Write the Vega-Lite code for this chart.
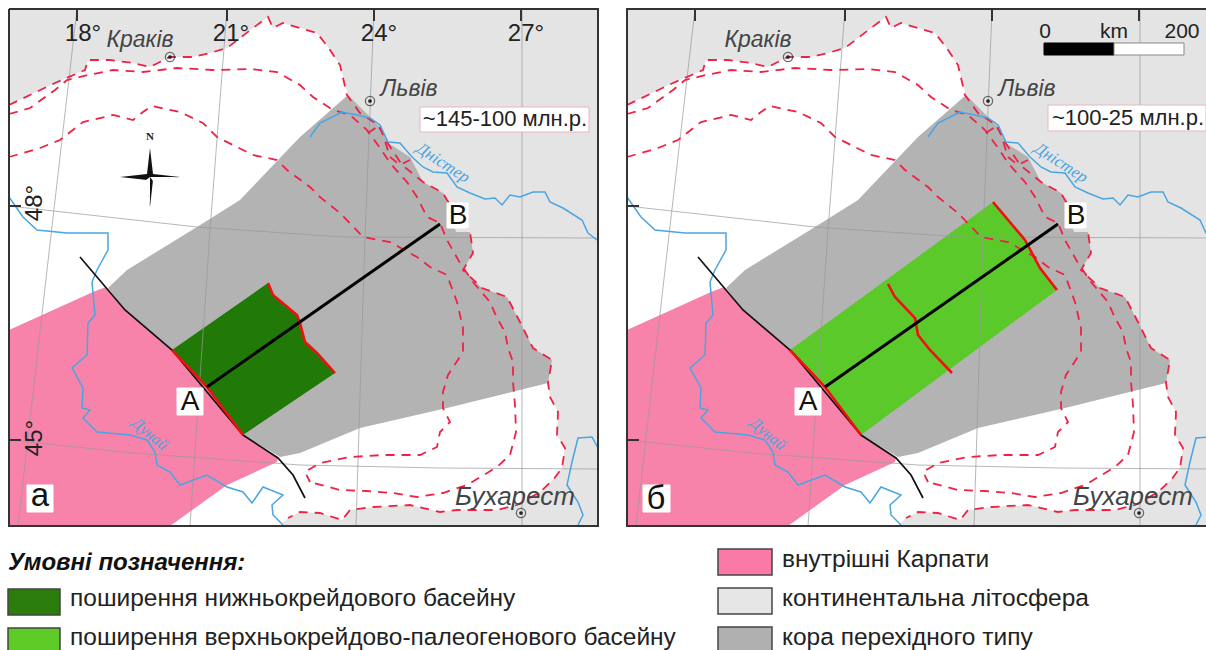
{"$schema":"https://vega.github.io/schema/vega-lite/v6.json","padding":0,"background":"white","config":{"view":{"stroke":null}},"spacing":0,
"datasets":{"map":[
{"g":"bg","x":9,"y":9},{"g":"bg","x":598,"y":9},{"g":"bg","x":598,"y":526},{"g":"bg","x":9,"y":526},
{"g":"white","x":9,"y":105},{"g":"white","x":55,"y":83},{"g":"white","x":85,"y":70},{"g":"white","x":88,"y":60},{"g":"white","x":110,"y":60},{"g":"white","x":133,"y":63},{"g":"white","x":150,"y":67},{"g":"white","x":170,"y":57},{"g":"white","x":192,"y":57},{"g":"white","x":210,"y":53},{"g":"white","x":227,"y":48},{"g":"white","x":240,"y":38},{"g":"white","x":253,"y":28},{"g":"white","x":268,"y":17},{"g":"white","x":273,"y":28},{"g":"white","x":283,"y":23},{"g":"white","x":300,"y":28},{"g":"white","x":317,"y":33},{"g":"white","x":328,"y":47},{"g":"white","x":340,"y":65},{"g":"white","x":348,"y":95},{"g":"white","x":380,"y":135},{"g":"white","x":430,"y":230},{"g":"white","x":450,"y":300},{"g":"white","x":500,"y":340},{"g":"white","x":548,"y":383},{"g":"white","x":550,"y":397},{"g":"white","x":558,"y":412},{"g":"white","x":557,"y":435},{"g":"white","x":565,"y":448},{"g":"white","x":562,"y":468},{"g":"white","x":553,"y":480},{"g":"white","x":540,"y":492},{"g":"white","x":517,"y":505},{"g":"white","x":497,"y":510},{"g":"white","x":473,"y":510},{"g":"white","x":457,"y":510},{"g":"white","x":440,"y":512},{"g":"white","x":410,"y":505},{"g":"white","x":373,"y":507},{"g":"white","x":350,"y":510},{"g":"white","x":342,"y":520},{"g":"white","x":320,"y":513},{"g":"white","x":300,"y":512},{"g":"white","x":288,"y":518},{"g":"white","x":280,"y":526},{"g":"white","x":9,"y":526},
{"g":"grey","x":108,"y":288},{"g":"grey","x":127,"y":270},{"g":"grey","x":197,"y":227},{"g":"grey","x":240,"y":200},{"g":"grey","x":300,"y":137},{"g":"grey","x":348,"y":95},{"g":"grey","x":370,"y":117},{"g":"grey","x":380,"y":127},{"g":"grey","x":388,"y":143},{"g":"grey","x":410,"y":157},{"g":"grey","x":423,"y":182},{"g":"grey","x":443,"y":193},{"g":"grey","x":447,"y":200},{"g":"grey","x":456,"y":232},{"g":"grey","x":470,"y":232},{"g":"grey","x":473,"y":253},{"g":"grey","x":463,"y":270},{"g":"grey","x":482,"y":288},{"g":"grey","x":507,"y":297},{"g":"grey","x":520,"y":322},{"g":"grey","x":533,"y":348},{"g":"grey","x":552,"y":360},{"g":"grey","x":548,"y":383},{"g":"grey","x":447,"y":408},{"g":"grey","x":360,"y":428},{"g":"grey","x":300,"y":453},{"g":"grey","x":280,"y":457},{"g":"grey","x":243,"y":435},{"g":"grey","x":172,"y":350},{"g":"grey","x":125,"y":310},
{"g":"pink","x":9,"y":330},{"g":"pink","x":93,"y":292},{"g":"pink","x":106,"y":287},{"g":"pink","x":125,"y":310},{"g":"pink","x":172,"y":350},{"g":"pink","x":207,"y":387},{"g":"pink","x":243,"y":435},{"g":"pink","x":278,"y":458},{"g":"pink","x":277,"y":462},{"g":"pink","x":227,"y":485},{"g":"pink","x":170,"y":526},{"g":"pink","x":9,"y":526},
{"g":"dk","p":"a","x":172,"y":350},{"g":"dk","p":"a","x":268,"y":283},{"g":"dk","p":"a","x":273,"y":295},{"g":"dk","p":"a","x":297,"y":315},{"g":"dk","p":"a","x":300,"y":323},{"g":"dk","p":"a","x":305,"y":342},{"g":"dk","p":"a","x":317,"y":353},{"g":"dk","p":"a","x":335,"y":373},{"g":"dk","p":"a","x":243,"y":435},{"g":"dk","p":"a","x":207,"y":387},
{"g":"lg","p":"b","x":172,"y":350},{"g":"lg","p":"b","x":375,"y":202},{"g":"lg","p":"b","x":407,"y":240},{"g":"lg","p":"b","x":422,"y":268},{"g":"lg","p":"b","x":439,"y":290},{"g":"lg","p":"b","x":243,"y":435},{"g":"lg","p":"b","x":207,"y":387},
{"k":"grid","g":"m18","x":77,"y":9},{"k":"grid","g":"m18","x":47,"y":270},{"k":"grid","g":"m18","x":18,"y":526},
{"k":"grid","g":"m21","x":227,"y":9},{"k":"grid","g":"m21","x":210,"y":230},{"k":"grid","g":"m21","x":190,"y":526},
{"k":"grid","g":"m24","x":374,"y":9},{"k":"grid","g":"m24","x":365,"y":237},{"k":"grid","g":"m24","x":356,"y":526},
{"k":"grid","g":"m27","x":522,"y":9},{"k":"grid","g":"m27","x":522,"y":526},
{"k":"grid","g":"p48","x":9,"y":206},{"k":"grid","g":"p48","x":197,"y":227},{"k":"grid","g":"p48","x":343,"y":237},{"k":"grid","g":"p48","x":598,"y":238},
{"k":"grid","g":"p45","x":9,"y":440},{"k":"grid","g":"p45","x":133,"y":453},{"k":"grid","g":"p45","x":300,"y":465},{"k":"grid","g":"p45","x":440,"y":468},{"k":"grid","g":"p45","x":598,"y":469},
{"k":"dash","g":"d1","x":9,"y":105},{"k":"dash","g":"d1","x":55,"y":83},{"k":"dash","g":"d1","x":85,"y":70},{"k":"dash","g":"d1","x":88,"y":60},{"k":"dash","g":"d1","x":110,"y":60},{"k":"dash","g":"d1","x":133,"y":63},{"k":"dash","g":"d1","x":150,"y":67},{"k":"dash","g":"d1","x":170,"y":57},{"k":"dash","g":"d1","x":192,"y":57},{"k":"dash","g":"d1","x":210,"y":53},{"k":"dash","g":"d1","x":227,"y":48},{"k":"dash","g":"d1","x":240,"y":38},{"k":"dash","g":"d1","x":253,"y":28},{"k":"dash","g":"d1","x":268,"y":17},{"k":"dash","g":"d1","x":273,"y":28},{"k":"dash","g":"d1","x":283,"y":23},{"k":"dash","g":"d1","x":300,"y":28},{"k":"dash","g":"d1","x":317,"y":33},{"k":"dash","g":"d1","x":328,"y":47},{"k":"dash","g":"d1","x":340,"y":65},{"k":"dash","g":"d1","x":347,"y":95},{"k":"dash","g":"d1","x":360,"y":113},{"k":"dash","g":"d1","x":378,"y":125},{"k":"dash","g":"d1","x":387,"y":142},{"k":"dash","g":"d1","x":402,"y":165},{"k":"dash","g":"d1","x":423,"y":182},{"k":"dash","g":"d1","x":443,"y":193},{"k":"dash","g":"d1","x":447,"y":200},{"k":"dash","g":"d1","x":470,"y":232},{"k":"dash","g":"d1","x":473,"y":253},{"k":"dash","g":"d1","x":463,"y":270},{"k":"dash","g":"d1","x":482,"y":288},{"k":"dash","g":"d1","x":507,"y":297},{"k":"dash","g":"d1","x":520,"y":322},{"k":"dash","g":"d1","x":533,"y":348},{"k":"dash","g":"d1","x":552,"y":360},{"k":"dash","g":"d1","x":548,"y":383},{"k":"dash","g":"d1","x":550,"y":397},{"k":"dash","g":"d1","x":558,"y":412},{"k":"dash","g":"d1","x":557,"y":435},{"k":"dash","g":"d1","x":565,"y":448},{"k":"dash","g":"d1","x":562,"y":468},{"k":"dash","g":"d1","x":553,"y":480},{"k":"dash","g":"d1","x":540,"y":492},{"k":"dash","g":"d1","x":517,"y":505},{"k":"dash","g":"d1","x":497,"y":510},{"k":"dash","g":"d1","x":473,"y":510},{"k":"dash","g":"d1","x":457,"y":510},{"k":"dash","g":"d1","x":440,"y":512},{"k":"dash","g":"d1","x":410,"y":505},{"k":"dash","g":"d1","x":373,"y":507},{"k":"dash","g":"d1","x":350,"y":510},{"k":"dash","g":"d1","x":342,"y":520},{"k":"dash","g":"d1","x":320,"y":513},{"k":"dash","g":"d1","x":300,"y":512},{"k":"dash","g":"d1","x":288,"y":518},
{"k":"dash","g":"d2","x":9,"y":114},{"k":"dash","g":"d2","x":30,"y":108},{"k":"dash","g":"d2","x":55,"y":90},{"k":"dash","g":"d2","x":67,"y":80},{"k":"dash","g":"d2","x":88,"y":75},{"k":"dash","g":"d2","x":113,"y":70},{"k":"dash","g":"d2","x":143,"y":72},{"k":"dash","g":"d2","x":177,"y":68},{"k":"dash","g":"d2","x":213,"y":70},{"k":"dash","g":"d2","x":250,"y":69},{"k":"dash","g":"d2","x":277,"y":72},{"k":"dash","g":"d2","x":300,"y":85},{"k":"dash","g":"d2","x":313,"y":97},{"k":"dash","g":"d2","x":333,"y":110},{"k":"dash","g":"d2","x":350,"y":115},{"k":"dash","g":"d2","x":367,"y":130},{"k":"dash","g":"d2","x":380,"y":148},{"k":"dash","g":"d2","x":390,"y":163},{"k":"dash","g":"d2","x":407,"y":182},{"k":"dash","g":"d2","x":417,"y":197},{"k":"dash","g":"d2","x":427,"y":217},{"k":"dash","g":"d2","x":440,"y":223},{"k":"dash","g":"d2","x":447,"y":240},{"k":"dash","g":"d2","x":460,"y":263},{"k":"dash","g":"d2","x":473,"y":282},{"k":"dash","g":"d2","x":490,"y":302},{"k":"dash","g":"d2","x":497,"y":318},{"k":"dash","g":"d2","x":505,"y":332},{"k":"dash","g":"d2","x":508,"y":348},{"k":"dash","g":"d2","x":513,"y":362},{"k":"dash","g":"d2","x":513,"y":382},{"k":"dash","g":"d2","x":515,"y":405},{"k":"dash","g":"d2","x":516,"y":432},{"k":"dash","g":"d2","x":510,"y":455},{"k":"dash","g":"d2","x":497,"y":467},{"k":"dash","g":"d2","x":467,"y":485},{"k":"dash","g":"d2","x":443,"y":493},{"k":"dash","g":"d2","x":417,"y":497},{"k":"dash","g":"d2","x":393,"y":493},{"k":"dash","g":"d2","x":367,"y":491},{"k":"dash","g":"d2","x":340,"y":490},{"k":"dash","g":"d2","x":310,"y":482},
{"k":"dash","g":"d3","x":9,"y":157},{"k":"dash","g":"d3","x":40,"y":148},{"k":"dash","g":"d3","x":60,"y":140},{"k":"dash","g":"d3","x":83,"y":122},{"k":"dash","g":"d3","x":113,"y":115},{"k":"dash","g":"d3","x":133,"y":120},{"k":"dash","g":"d3","x":143,"y":112},{"k":"dash","g":"d3","x":152,"y":106},{"k":"dash","g":"d3","x":180,"y":112},{"k":"dash","g":"d3","x":203,"y":123},{"k":"dash","g":"d3","x":217,"y":137},{"k":"dash","g":"d3","x":253,"y":155},{"k":"dash","g":"d3","x":277,"y":160},{"k":"dash","g":"d3","x":287,"y":170},{"k":"dash","g":"d3","x":310,"y":187},{"k":"dash","g":"d3","x":320,"y":197},{"k":"dash","g":"d3","x":340,"y":213},{"k":"dash","g":"d3","x":363,"y":237},{"k":"dash","g":"d3","x":390,"y":242},{"k":"dash","g":"d3","x":417,"y":257},{"k":"dash","g":"d3","x":430,"y":267},{"k":"dash","g":"d3","x":447,"y":275},{"k":"dash","g":"d3","x":457,"y":302},{"k":"dash","g":"d3","x":463,"y":328},{"k":"dash","g":"d3","x":463,"y":352},{"k":"dash","g":"d3","x":448,"y":375},{"k":"dash","g":"d3","x":443,"y":392},{"k":"dash","g":"d3","x":443,"y":408},{"k":"dash","g":"d3","x":450,"y":422},{"k":"dash","g":"d3","x":440,"y":432},{"k":"dash","g":"d3","x":437,"y":447},{"k":"dash","g":"d3","x":420,"y":455},{"k":"dash","g":"d3","x":383,"y":455},{"k":"dash","g":"d3","x":350,"y":457},{"k":"dash","g":"d3","x":320,"y":463},{"k":"dash","g":"d3","x":305,"y":472},{"k":"dash","g":"d3","x":310,"y":482},
{"k":"dash","g":"d4","x":368,"y":133},{"k":"dash","g":"d4","x":380,"y":125},{"k":"dash","g":"d4","x":390,"y":157},{"k":"dash","g":"d4","x":400,"y":165},{"k":"dash","g":"d4","x":410,"y":160},
{"k":"river","g":"r1","x":310,"y":137},{"k":"river","g":"r1","x":320,"y":123},{"k":"river","g":"r1","x":342,"y":112},{"k":"river","g":"r1","x":357,"y":115},{"k":"river","g":"r1","x":370,"y":118},{"k":"river","g":"r1","x":380,"y":125},{"k":"river","g":"r1","x":388,"y":142},{"k":"river","g":"r1","x":400,"y":143},{"k":"river","g":"r1","x":412,"y":157},{"k":"river","g":"r1","x":423,"y":167},{"k":"river","g":"r1","x":433,"y":172},{"k":"river","g":"r1","x":447,"y":173},{"k":"river","g":"r1","x":457,"y":187},{"k":"river","g":"r1","x":470,"y":193},{"k":"river","g":"r1","x":485,"y":199},{"k":"river","g":"r1","x":495,"y":198},{"k":"river","g":"r1","x":502,"y":205},{"k":"river","g":"r1","x":510,"y":195},{"k":"river","g":"r1","x":520,"y":197},{"k":"river","g":"r1","x":533,"y":192},{"k":"river","g":"r1","x":545,"y":192},{"k":"river","g":"r1","x":550,"y":202},{"k":"river","g":"r1","x":563,"y":208},{"k":"river","g":"r1","x":582,"y":220},{"k":"river","g":"r1","x":588,"y":233},{"k":"river","g":"r1","x":597,"y":240},
{"k":"river","g":"r2","x":9,"y":197},{"k":"river","g":"r2","x":23,"y":217},{"k":"river","g":"r2","x":37,"y":230},{"k":"river","g":"r2","x":67,"y":233},{"k":"river","g":"r2","x":90,"y":233},{"k":"river","g":"r2","x":108,"y":233},{"k":"river","g":"r2","x":108,"y":250},{"k":"river","g":"r2","x":97,"y":270},{"k":"river","g":"r2","x":92,"y":282},{"k":"river","g":"r2","x":95,"y":315},{"k":"river","g":"r2","x":88,"y":323},{"k":"river","g":"r2","x":87,"y":355},{"k":"river","g":"r2","x":72,"y":368},{"k":"river","g":"r2","x":83,"y":388},{"k":"river","g":"r2","x":82,"y":408},{"k":"river","g":"r2","x":90,"y":410},{"k":"river","g":"r2","x":83,"y":418},{"k":"river","g":"r2","x":97,"y":432},{"k":"river","g":"r2","x":130,"y":435},{"k":"river","g":"r2","x":147,"y":440},{"k":"river","g":"r2","x":155,"y":452},{"k":"river","g":"r2","x":157,"y":465},{"k":"river","g":"r2","x":170,"y":472},{"k":"river","g":"r2","x":180,"y":485},{"k":"river","g":"r2","x":207,"y":475},{"k":"river","g":"r2","x":227,"y":487},{"k":"river","g":"r2","x":243,"y":492},{"k":"river","g":"r2","x":252,"y":503},{"k":"river","g":"r2","x":263,"y":487},{"k":"river","g":"r2","x":283,"y":495},{"k":"river","g":"r2","x":272,"y":505},{"k":"river","g":"r2","x":273,"y":515},{"k":"river","g":"r2","x":283,"y":525},
{"k":"river","g":"r3","x":598,"y":448},{"k":"river","g":"r3","x":592,"y":437},{"k":"river","g":"r3","x":578,"y":438},{"k":"river","g":"r3","x":572,"y":462},{"k":"river","g":"r3","x":567,"y":485},{"k":"river","g":"r3","x":578,"y":502},{"k":"river","g":"r3","x":583,"y":515},{"k":"river","g":"r3","x":578,"y":525},
{"k":"black","g":"b1","x":80,"y":257},{"k":"black","g":"b1","x":125,"y":310},{"k":"black","g":"b1","x":172,"y":350},{"k":"black","g":"b1","x":243,"y":435},{"k":"black","g":"b1","x":278,"y":458},{"k":"black","g":"b1","x":293,"y":475},{"k":"black","g":"b1","x":305,"y":498},
{"k":"red","g":"e1","x":172,"y":350},{"k":"red","g":"e1","x":207,"y":387},{"k":"red","g":"e1","x":243,"y":435},
{"k":"red","g":"e2","p":"a","x":268,"y":283},{"k":"red","g":"e2","p":"a","x":273,"y":295},{"k":"red","g":"e2","p":"a","x":297,"y":315},{"k":"red","g":"e2","p":"a","x":300,"y":323},{"k":"red","g":"e2","p":"a","x":305,"y":342},{"k":"red","g":"e2","p":"a","x":317,"y":353},{"k":"red","g":"e2","p":"a","x":335,"y":373},
{"k":"red","g":"e3","p":"b","x":375,"y":202},{"k":"red","g":"e3","p":"b","x":407,"y":240},{"k":"red","g":"e3","p":"b","x":422,"y":268},{"k":"red","g":"e3","p":"b","x":439,"y":290},
{"k":"red","g":"e4","p":"b","x":270,"y":284},{"k":"red","g":"e4","p":"b","x":277,"y":297},{"k":"red","g":"e4","p":"b","x":297,"y":318},{"k":"red","g":"e4","p":"b","x":300,"y":335},{"k":"red","g":"e4","p":"b","x":312,"y":350},{"k":"red","g":"e4","p":"b","x":334,"y":373},
{"k":"ab","g":"ab","x":207,"y":387},{"k":"ab","g":"ab","x":440,"y":224},
{"k":"frame","g":"fa","p":"a","x":9,"y":9},{"k":"frame","g":"fa","p":"a","x":598,"y":9},{"k":"frame","g":"fa","p":"a","x":598,"y":526},{"k":"frame","g":"fa","p":"a","x":9,"y":526},{"k":"frame","g":"fa","p":"a","x":9,"y":9},
{"k":"frame","g":"fb","p":"b","x":588,"y":9},{"k":"frame","g":"fb","p":"b","x":9,"y":9},{"k":"frame","g":"fb","p":"b","x":9,"y":526},{"k":"frame","g":"fb","p":"b","x":588,"y":526},
{"k":"frame","g":"t1","x":77,"y":9},{"k":"frame","g":"t1","x":77,"y":21},{"k":"frame","g":"t2","x":227,"y":9},{"k":"frame","g":"t2","x":227,"y":21},{"k":"frame","g":"t3","x":374,"y":9},{"k":"frame","g":"t3","x":374,"y":21},{"k":"frame","g":"t4","x":521,"y":9},{"k":"frame","g":"t4","x":521,"y":21},{"k":"frame","g":"t5","x":9,"y":206},{"k":"frame","g":"t5","x":21,"y":206},{"k":"frame","g":"t6","x":9,"y":440},{"k":"frame","g":"t6","x":21,"y":440},
{"g":"cb","p":"a","x":150,"y":148},{"g":"cb","p":"a","x":153,"y":174},{"g":"cb","p":"a","x":180,"y":177},{"g":"cb","p":"a","x":153,"y":180},{"g":"cb","p":"a","x":150,"y":207},{"g":"cb","p":"a","x":147,"y":180},{"g":"cb","p":"a","x":120,"y":177},{"g":"cb","p":"a","x":147,"y":174},
{"k":"cw","g":"w1","p":"a","x":150,"y":207},{"k":"cw","g":"w1","p":"a","x":146,"y":180},{"k":"cw","g":"w1","p":"a","x":150,"y":177},
{"k":"cw","g":"w2","p":"a","x":180,"y":177},{"k":"cw","g":"w2","p":"a","x":153,"y":181},{"k":"cw","g":"w2","p":"a","x":150,"y":177},
{"k":"rect","g":"wbox","x":177,"x2":203,"y":388,"y2":415},{"k":"rect","g":"wbox","x":447,"x2":468,"y":203,"y2":228},{"k":"rect","g":"wbox","p":"a","x":27,"x2":53,"y":485,"y2":512},{"k":"rect","g":"wbox","p":"b","x":25,"x2":52,"y":485,"y2":512},
{"k":"rect","g":"tbox","p":"a","x":420,"x2":589,"y":107,"y2":132},{"k":"rect","g":"tbox","p":"b","x":430,"x2":588,"y":105,"y2":131},
{"k":"rect","g":"sb","p":"b","x":426,"x2":496,"y":43,"y2":55},{"k":"rect","g":"sw","p":"b","x":496,"x2":566,"y":43,"y2":55},
{"k":"cm","x":170,"y":57},{"k":"cm","x":370,"y":101},{"k":"cm","x":521,"y":513},
{"k":"deg","p":"a","t":"18°","x":83,"y":34},{"k":"deg","p":"a","t":"21°","x":231,"y":34},{"k":"deg","p":"a","t":"24°","x":379,"y":34},{"k":"deg","p":"a","t":"27°","x":526,"y":34},
{"k":"degv","p":"a","t":"48°","x":35,"y":203},{"k":"degv","p":"a","t":"45°","x":35,"y":438},
{"k":"city","t":"Краків","x":140,"y":40},{"k":"city","t":"Львів","x":409,"y":89},{"k":"cityb","t":"Бухарест","x":515,"y":497},
{"k":"tb","p":"a","t":"~145-100 млн.р.","x":505,"y":119},{"k":"tb","p":"b","t":"~100-25 млн.р.","x":510,"y":118},
{"k":"let","t":"A","x":190,"y":402},{"k":"let","t":"B","x":458,"y":216},{"k":"let2","p":"a","t":"а","x":40,"y":496},{"k":"let2","p":"b","t":"б","x":38,"y":499},
{"k":"sbt","p":"b","t":"0","x":427,"y":32},{"k":"sbt","p":"b","t":"km","x":496,"y":32},{"k":"sbt","p":"b","t":"200","x":564,"y":32},
{"k":"N","p":"a","t":"N","x":150,"y":137},
{"k":"riv1","t":"Дністер","x":443,"y":163},{"k":"riv2","t":"Дунай","x":150,"y":434}
],
"legend":[
{"g":"dk","x":8,"x2":60,"y":585,"y2":611},{"g":"lg","x":8,"x2":60,"y":624,"y2":649},{"g":"pink","x":718,"x2":772,"y":545,"y2":571},{"g":"cont","x":718,"x2":772,"y":584,"y2":610},{"g":"grey","x":718,"x2":772,"y":623,"y2":648},
{"k":"h","t":"Умовні позначення:","x":8,"y":559},
{"k":"l","t":"поширення нижньокрейдового басейну","x":70,"y":595},{"k":"l","t":"поширення верхньокрейдово-палеогенового басейну","x":70,"y":634},{"k":"l","t":"внутрішні Карпати","x":782,"y":556},{"k":"l","t":"континентальна літосфера","x":782,"y":595},{"k":"l","t":"кора перехідного типу","x":782,"y":634}
]},
"vconcat":[{"spacing":0,"hconcat":[
{"width":613,"height":526,"data":{"name":"map"},"transform":[{"window":[{"op":"row_number","as":"i"}]},{"filter":"datum.p!='b'"}],
"encoding":{"x":{"field":"x","type":"quantitative","axis":null,"scale":{"domain":[0,613],"nice":false,"zero":false}},"y":{"field":"y","type":"quantitative","axis":null,"scale":{"domain":[0,526],"reverse":true,"nice":false,"zero":false}}},
"layer":[
{"transform":[{"filter":"datum.g=='bg'"}],"mark":{"type":"line","fill":"#e4e4e4","stroke":null},"encoding":{"order":{"field":"i"}}},
{"transform":[{"filter":"datum.g=='white'"}],"mark":{"type":"line","fill":"#ffffff","stroke":null},"encoding":{"order":{"field":"i"}}},
{"transform":[{"filter":"datum.g=='grey'"}],"mark":{"type":"line","fill":"#b3b3b3","stroke":null},"encoding":{"order":{"field":"i"}}},
{"transform":[{"filter":"datum.g=='pink'"}],"mark":{"type":"line","fill":"#f883aa","stroke":null},"encoding":{"order":{"field":"i"}}},
{"transform":[{"filter":"datum.g=='dk'"}],"mark":{"type":"line","fill":"#217a07","stroke":null},"encoding":{"order":{"field":"i"}}},
{"transform":[{"filter":"datum.g=='cb'"}],"mark":{"type":"line","fill":"#111111","stroke":null},"encoding":{"order":{"field":"i"}}},
{"transform":[{"filter":"datum.k=='cw'"}],"mark":{"type":"line","fill":"#ffffff","stroke":null},"encoding":{"detail":{"field":"g"},"order":{"field":"i"}}},
{"transform":[{"filter":"datum.k=='grid'"}],"mark":{"type":"line","stroke":"#999999","strokeWidth":1,"opacity":0.7},"encoding":{"detail":{"field":"g"},"order":{"field":"i"}}},
{"transform":[{"filter":"datum.k=='dash'"}],"mark":{"type":"line","stroke":"#ee2245","strokeWidth":1.8,"strokeDash":[9,7]},"encoding":{"detail":{"field":"g"},"order":{"field":"i"}}},
{"transform":[{"filter":"datum.k=='river'"}],"mark":{"type":"line","stroke":"#4aa5e0","strokeWidth":1.5},"encoding":{"detail":{"field":"g"},"order":{"field":"i"}}},
{"transform":[{"filter":"datum.k=='black'"}],"mark":{"type":"line","stroke":"#111111","strokeWidth":1.7},"encoding":{"detail":{"field":"g"},"order":{"field":"i"}}},
{"transform":[{"filter":"datum.k=='red'"}],"mark":{"type":"line","stroke":"#f01010","strokeWidth":2.6},"encoding":{"detail":{"field":"g"},"order":{"field":"i"}}},
{"transform":[{"filter":"datum.k=='rect'"}],"mark":{"type":"rect","strokeWidth":1},"encoding":{"x2":{"field":"x2"},"y2":{"field":"y2"},"fill":{"field":"g","legend":null,"scale":{"domain":["wbox","tbox","sb","sw","dk","lg","pink","cont","grey"],"range":["#ffffff","#ffffff","#000000","#ffffff","#2a7d0a","#5ecb27","#f97aa6","#e6e6e6","#b0b0b0"]}},"stroke":{"field":"g","legend":null,"scale":{"domain":["wbox","tbox","sb","sw"],"range":["#ffffff","#eab4c4","#000000","#888888"]}}}},
{"transform":[{"filter":"datum.k=='ab'"}],"mark":{"type":"line","stroke":"#000000","strokeWidth":3},"encoding":{"order":{"field":"i"}}},
{"transform":[{"filter":"datum.k=='frame'"}],"mark":{"type":"line","stroke":"#333333","strokeWidth":2},"encoding":{"detail":{"field":"g"},"order":{"field":"i"}}},
{"transform":[{"filter":"datum.k=='cm'"}],"mark":{"type":"point","size":85,"stroke":"#333333","strokeWidth":1.3,"filled":false}},
{"transform":[{"filter":"datum.k=='cm'"}],"mark":{"type":"point","size":14,"fill":"#222222","filled":true,"opacity":1}},
{"transform":[{"filter":"datum.k=='deg'"}],"mark":{"type":"text","font":"Liberation Sans","fontSize":24,"fill":"#222222"},"encoding":{"text":{"field":"t"}}},
{"transform":[{"filter":"datum.k=='degv'"}],"mark":{"type":"text","font":"Liberation Sans","fontSize":24,"fill":"#222222","angle":270},"encoding":{"text":{"field":"t"}}},
{"transform":[{"filter":"datum.k=='city'"}],"mark":{"type":"text","font":"Liberation Sans","fontStyle":"italic","fontSize":23,"fill":"#444444"},"encoding":{"text":{"field":"t"}}},
{"transform":[{"filter":"datum.k=='cityb'"}],"mark":{"type":"text","font":"Liberation Sans","fontStyle":"italic","fontSize":26,"fill":"#444444"},"encoding":{"text":{"field":"t"}}},
{"transform":[{"filter":"datum.k=='tb'"}],"mark":{"type":"text","font":"Liberation Sans","fontSize":22,"fill":"#222222"},"encoding":{"text":{"field":"t"}}},
{"transform":[{"filter":"datum.k=='let'"}],"mark":{"type":"text","font":"Liberation Sans","fontSize":28,"fill":"#111111"},"encoding":{"text":{"field":"t"}}},
{"transform":[{"filter":"datum.k=='let2'"}],"mark":{"type":"text","font":"Liberation Sans","fontSize":33,"fill":"#111111"},"encoding":{"text":{"field":"t"}}},
{"transform":[{"filter":"datum.k=='N'"}],"mark":{"type":"text","font":"Liberation Serif","fontWeight":"bold","fontSize":11,"fill":"#222222"},"encoding":{"text":{"field":"t"}}},
{"transform":[{"filter":"datum.k=='riv1'"}],"mark":{"type":"text","font":"Liberation Serif","fontStyle":"italic","fontSize":17,"fill":"#4aa5e0","angle":33},"encoding":{"text":{"field":"t"}}},
{"transform":[{"filter":"datum.k=='riv2'"}],"mark":{"type":"text","font":"Liberation Serif","fontStyle":"italic","fontSize":16,"fill":"#4aa5e0","angle":40},"encoding":{"text":{"field":"t"}}}
]},
{"width":593,"height":526,"data":{"name":"map"},"transform":[{"window":[{"op":"row_number","as":"i"}]},{"filter":"datum.p!='a'"}],
"encoding":{"x":{"field":"x","type":"quantitative","axis":null,"scale":{"domain":[-5,588],"nice":false,"zero":false}},"y":{"field":"y","type":"quantitative","axis":null,"scale":{"domain":[0,526],"reverse":true,"nice":false,"zero":false}}},
"layer":[
{"transform":[{"filter":"datum.g=='bg'"}],"mark":{"type":"line","fill":"#e4e4e4","stroke":null,"clip":true},"encoding":{"order":{"field":"i"}}},
{"transform":[{"filter":"datum.g=='white'"}],"mark":{"type":"line","fill":"#ffffff","stroke":null},"encoding":{"order":{"field":"i"}}},
{"transform":[{"filter":"datum.g=='grey'"}],"mark":{"type":"line","fill":"#b3b3b3","stroke":null},"encoding":{"order":{"field":"i"}}},
{"transform":[{"filter":"datum.g=='pink'"}],"mark":{"type":"line","fill":"#f883aa","stroke":null},"encoding":{"order":{"field":"i"}}},
{"transform":[{"filter":"datum.g=='lg'"}],"mark":{"type":"line","fill":"#5cc92a","stroke":null},"encoding":{"order":{"field":"i"}}},
{"transform":[{"filter":"datum.k=='grid'"}],"mark":{"type":"line","stroke":"#999999","strokeWidth":1,"opacity":0.7,"clip":true},"encoding":{"detail":{"field":"g"},"order":{"field":"i"}}},
{"transform":[{"filter":"datum.k=='dash'"}],"mark":{"type":"line","stroke":"#ee2245","strokeWidth":1.8,"strokeDash":[9,7]},"encoding":{"detail":{"field":"g"},"order":{"field":"i"}}},
{"transform":[{"filter":"datum.k=='river'"}],"mark":{"type":"line","stroke":"#4aa5e0","strokeWidth":1.5,"clip":true},"encoding":{"detail":{"field":"g"},"order":{"field":"i"}}},
{"transform":[{"filter":"datum.k=='black'"}],"mark":{"type":"line","stroke":"#111111","strokeWidth":1.7},"encoding":{"detail":{"field":"g"},"order":{"field":"i"}}},
{"transform":[{"filter":"datum.k=='red'"}],"mark":{"type":"line","stroke":"#f01010","strokeWidth":2.6},"encoding":{"detail":{"field":"g"},"order":{"field":"i"}}},
{"transform":[{"filter":"datum.k=='rect'"}],"mark":{"type":"rect","strokeWidth":1},"encoding":{"x2":{"field":"x2"},"y2":{"field":"y2"},"fill":{"field":"g","legend":null,"scale":{"domain":["wbox","tbox","sb","sw","dk","lg","pink","cont","grey"],"range":["#ffffff","#ffffff","#000000","#ffffff","#2a7d0a","#5ecb27","#f97aa6","#e6e6e6","#b0b0b0"]}},"stroke":{"field":"g","legend":null,"scale":{"domain":["wbox","tbox","sb","sw"],"range":["#ffffff","#eab4c4","#000000","#888888"]}}}},
{"transform":[{"filter":"datum.k=='ab'"}],"mark":{"type":"line","stroke":"#000000","strokeWidth":3},"encoding":{"order":{"field":"i"}}},
{"transform":[{"filter":"datum.k=='frame'"}],"mark":{"type":"line","stroke":"#333333","strokeWidth":2},"encoding":{"detail":{"field":"g"},"order":{"field":"i"}}},
{"transform":[{"filter":"datum.k=='cm'"}],"mark":{"type":"point","size":85,"stroke":"#333333","strokeWidth":1.3,"filled":false}},
{"transform":[{"filter":"datum.k=='cm'"}],"mark":{"type":"point","size":14,"fill":"#222222","filled":true,"opacity":1}},
{"transform":[{"filter":"datum.k=='city'"}],"mark":{"type":"text","font":"Liberation Sans","fontStyle":"italic","fontSize":23,"fill":"#444444"},"encoding":{"text":{"field":"t"}}},
{"transform":[{"filter":"datum.k=='cityb'"}],"mark":{"type":"text","font":"Liberation Sans","fontStyle":"italic","fontSize":26,"fill":"#444444"},"encoding":{"text":{"field":"t"}}},
{"transform":[{"filter":"datum.k=='tb'"}],"mark":{"type":"text","font":"Liberation Sans","fontSize":22,"fill":"#222222"},"encoding":{"text":{"field":"t"}}},
{"transform":[{"filter":"datum.k=='let'"}],"mark":{"type":"text","font":"Liberation Sans","fontSize":28,"fill":"#111111"},"encoding":{"text":{"field":"t"}}},
{"transform":[{"filter":"datum.k=='let2'"}],"mark":{"type":"text","font":"Liberation Sans","fontSize":33,"fill":"#111111"},"encoding":{"text":{"field":"t"}}},
{"transform":[{"filter":"datum.k=='sbt'"}],"mark":{"type":"text","font":"Liberation Sans","fontSize":21,"fill":"#222222"},"encoding":{"text":{"field":"t"}}},
{"transform":[{"filter":"datum.k=='riv1'"}],"mark":{"type":"text","font":"Liberation Serif","fontStyle":"italic","fontSize":17,"fill":"#4aa5e0","angle":33},"encoding":{"text":{"field":"t"}}},
{"transform":[{"filter":"datum.k=='riv2'"}],"mark":{"type":"text","font":"Liberation Serif","fontStyle":"italic","fontSize":16,"fill":"#4aa5e0","angle":40},"encoding":{"text":{"field":"t"}}}
]}]},
{"width":1206,"height":124,"data":{"name":"legend"},
"encoding":{"x":{"field":"x","type":"quantitative","axis":null,"scale":{"domain":[0,1206],"nice":false,"zero":false}},"y":{"field":"y","type":"quantitative","axis":null,"scale":{"domain":[526,650],"reverse":true,"nice":false,"zero":false}}},
"layer":[
{"transform":[{"filter":"datum.g"}],"mark":{"type":"rect","stroke":"#444444","strokeWidth":1.5},"encoding":{"x2":{"field":"x2"},"y2":{"field":"y2"},"fill":{"field":"g","legend":null,"scale":{"domain":["wbox","tbox","sb","sw","dk","lg","pink","cont","grey"],"range":["#ffffff","#ffffff","#000000","#ffffff","#2a7d0a","#5ecb27","#f97aa6","#e6e6e6","#b0b0b0"]}}}},
{"transform":[{"filter":"datum.k=='h'"}],"mark":{"type":"text","align":"left","font":"Liberation Sans","fontStyle":"italic","fontWeight":"bold","fontSize":24,"fill":"#111111"},"encoding":{"text":{"field":"t"}}},
{"transform":[{"filter":"datum.k=='l'"}],"mark":{"type":"text","align":"left","font":"Liberation Sans","fontSize":24.5,"fill":"#222222"},"encoding":{"text":{"field":"t"}}}
]}
]}
